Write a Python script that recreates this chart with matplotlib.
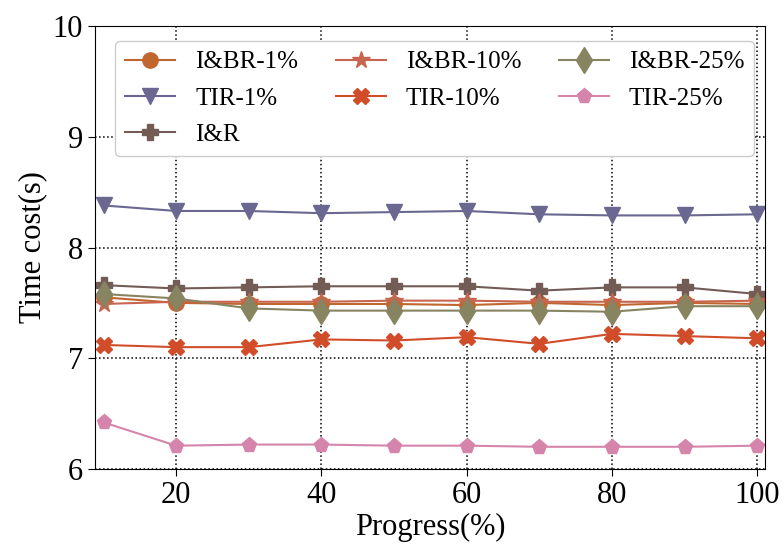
import matplotlib
matplotlib.use("Agg")
import matplotlib.pyplot as plt

plt.rcParams['font.family'] = ['Liberation Serif', 'DejaVu Serif']
plt.rcParams['mathtext.fontset'] = 'stix'

progress = [10, 20, 30, 40, 50, 60, 70, 80, 90, 100]

ibr_1 = [7.55, 7.50, 7.49, 7.49, 7.49, 7.48, 7.50, 7.48, 7.50, 7.49]
ibr_10 = [7.49, 7.51, 7.51, 7.51, 7.52, 7.52, 7.51, 7.51, 7.51, 7.52]
ibr_25 = [7.58, 7.54, 7.45, 7.43, 7.43, 7.43, 7.43, 7.42, 7.47, 7.47]
tir_1 = [8.38, 8.33, 8.33, 8.31, 8.32, 8.33, 8.30, 8.29, 8.29, 8.30]
tir_10 = [7.12, 7.10, 7.10, 7.17, 7.16, 7.19, 7.13, 7.22, 7.20, 7.18]
tir_25 = [6.42, 6.21, 6.22, 6.22, 6.21, 6.21, 6.20, 6.20, 6.20, 6.21]
i_r = [7.66, 7.63, 7.64, 7.65, 7.65, 7.65, 7.61, 7.64, 7.64, 7.58]

series = [
    ('I&BR-1%', ibr_1, '#c0672f', 'o'),
    ('TIR-1%', tir_1, '#6a6890', 'v'),
    ('I&R', i_r, '#735c55', 'P'),
    ('I&BR-10%', ibr_10, '#c8654f', '*'),
    ('TIR-10%', tir_10, '#d14d2a', 'X'),
    ('I&BR-25%', ibr_25, '#878462', 'd'),
    ('TIR-25%', tir_25, '#d585ab', 'p'),
]

fig = plt.figure(figsize=(7.84, 5.44), dpi=100)
ax = fig.add_axes([0.121, 0.138, 0.855, 0.814])

for name, vals, col, mk in series:
    ms = 13 if mk in ('*', 'd') else 11
    ax.plot(progress, vals, color=col, marker=mk, markersize=ms,
            linewidth=1.5, label=name)

ax.set_xlim(8.8, 101.1)
ax.set_ylim(6, 10)
ax.set_xticks([20, 40, 60, 80, 100])
ax.set_yticks([6, 7, 8, 9, 10])
ax.tick_params(labelsize=22, direction='out', length=5)
ax.grid(True, linestyle=':', color='black', linewidth=1.1)
ax.set_xlabel('Progress(%)', fontsize=22, labelpad=2)
ax.set_ylabel('Time cost(s)', fontsize=22)

ax.legend(loc='upper left', ncol=3, fontsize=18, bbox_to_anchor=(0.012, 0.995),
          handlelength=2.0, handletextpad=0.8, columnspacing=1.5,
          labelspacing=0.55, framealpha=1, edgecolor='#cccccc')

fig.savefig('out.png', dpi=100)
